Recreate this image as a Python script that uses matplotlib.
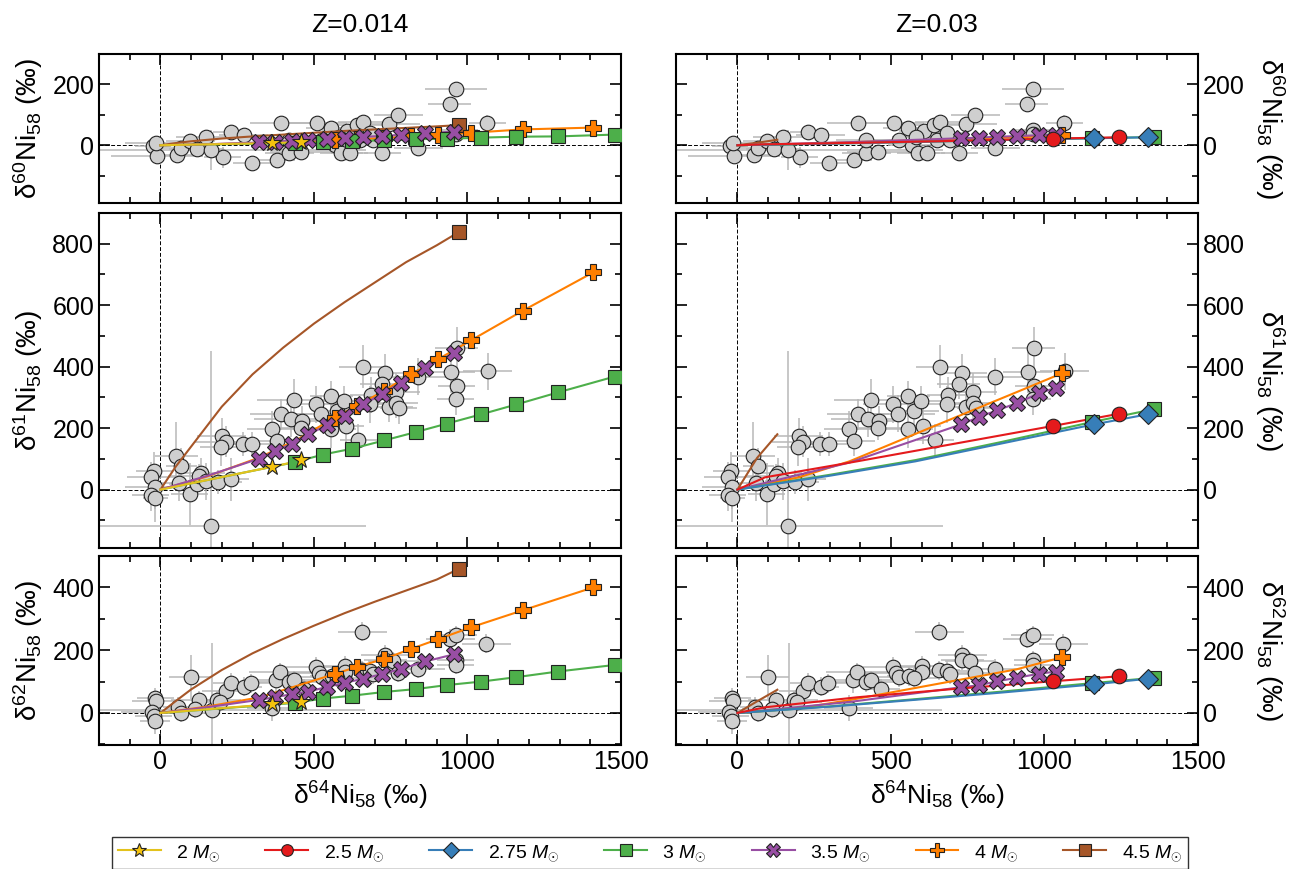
import numpy as np
import matplotlib.pyplot as plt
from matplotlib.ticker import MultipleLocator
from matplotlib.lines import Line2D

plt.rcParams['font.family'] = ['Liberation Sans', 'DejaVu Sans']
plt.rcParams['mathtext.fontset'] = 'custom'
plt.rcParams['mathtext.rm'] = 'Liberation Sans'
plt.rcParams['mathtext.it'] = 'Liberation Sans:italic'

# ---- grain data (same grains in both columns) ----
g60_x = [-24, -12, -14, 55, 67, 97, 118, 150, 203, 230, 271, 298, 379, 392, 420, 458, 509, 555, 569, 589,
         616, 607, 640, 659, 650, 691, 684, 745, 774, 722, 840, 943, 962, 1064, 964, 962, 583, 420, 525, 165]
g60_y = [-4, -35, 7, -32, -10, 15, -13, 26, -40, 45, 34, -57, -48, 72, -26, -21, 74, 55, 1, -26,
         -26, 47, 68, 77, 17, 17, 39, 70, 99, -26, -10, 134, 186, 74, 50, 38, 28, 17, 17, -15]
g60_xe = [60, 150, 100, 60, 80, 80, 90, 100, 60, 60, 80, 60, 60, 100, 80, 100, 100, 80, 80, 70,
          60, 80, 120, 80, 80, 70, 70, 100, 80, 60, 80, 70, 100, 60, 70, 60, 80, 100, 80, 505]
g60_ye = [15, 20, 20, 20, 20, 20, 20, 20, 35, 20, 20, 20, 20, 20, 20, 20, 20, 20, 20, 20,
          20, 20, 20, 20, 20, 20, 20, 20, 25, 20, 25, 20, 20, 25, 20, 20, 20, 20, 20, 65]

g61_x = [-20, -30, -16, -31, -16, 51, 68, 62, 95, 119, 131, 126, 149, 187, 230, 199, 214, 198, 268, 298,
         165, 363, 379, 393, 424, 434, 461, 458, 508, 522, 556, 556, 576, 599, 603, 644, 661, 687, 681, 732,
         721, 743, 766, 768, 776, 840, 946, 965, 965, 962, 1066]
g61_y = [62, 41, 8, -18, -27, 109, 76, 22, -14, 18, 54, 44, 27, 25, 33, 174, 156, 138, 149, 149,
         -120, 197, 158, 245, 231, 291, 223, 201, 277, 247, 305, 196, 256, 288, 207, 163, 399, 308, 277, 381,
         345, 270, 319, 283, 264, 367, 383, 460, 337, 294, 385]
g61_xe = [60, 80, 100, 60, 40, 70, 50, 100, 60, 90, 80, 100, 60, 80, 60, 80, 100, 70, 60, 60,
          505, 80, 70, 100, 120, 120, 60, 80, 100, 120, 70, 80, 80, 70, 60, 60, 80, 70, 70, 80,
          70, 80, 80, 70, 60, 90, 80, 70, 60, 60, 80]
g61_ye = [60, 50, 70, 50, 80, 110, 60, 60, 100, 40, 50, 40, 60, 40, 70, 60, 50, 60, 40, 40,
          570, 60, 50, 50, 60, 70, 50, 40, 60, 60, 50, 60, 50, 50, 60, 50, 70, 60, 60, 60,
          50, 50, 60, 50, 50, 60, 70, 70, 60, 50, 60]

g62_x = [-16, -14, -27, -22, 98, 57, 68, 125, 114, 167, 184, 215, 231, 271, 296, 363, 378, 390, 420, 434,
         468, 508, 515, 525, 558, 600, 602, 576, 658, 656, 684, 732, 732, 756, 775, 838, 944, 962, 962, 962,
         1061, 691, 195, -18]
g62_y = [49, 38, 2, -11, 114, 20, 0, 41, 13, 8, 41, 71, 96, 84, 95, 16, 104, 130, 98, 104,
         77, 147, 128, 114, 117, 150, 130, 112, 259, 136, 134, 185, 168, 165, 128, 141, 236, 248, 168, 154,
         220, 123, 35, -27]
g62_xe = [60, 80, 100, 60, 70, 50, 100, 90, 100, 500, 80, 80, 60, 60, 60, 80, 70, 100, 120, 80,
          60, 100, 120, 80, 70, 80, 80, 80, 80, 70, 70, 80, 70, 80, 70, 90, 80, 70, 60, 60,
          80, 70, 80, 50]
g62_ye = [30, 30, 40, 40, 70, 30, 30, 30, 30, 215, 30, 30, 30, 30, 30, 40, 40, 30, 30, 30,
          30, 30, 30, 30, 30, 30, 30, 30, 30, 30, 30, 30, 30, 30, 30, 30, 30, 30, 30, 30,
          30, 30, 30, 40]

# ---- models, Z=0.014 ----
m2_x = [0, 363, 458]
m2_60 = [0, 7, 10]
m2_61 = [0, 74, 95]
m2_62 = [0, 28, 36]

m3_x = [0, 437, 529, 624, 729, 831, 934, 1045, 1159, 1294, 1480]
m3_60 = [0, 7, 9, 14, 16, 20, 21, 25, 28, 29, 35]
m3_61 = [0, 89, 114, 133, 160, 187, 215, 245, 277, 316, 368]
m3_62 = [0, 32, 46, 55, 67, 76, 89, 100, 114, 132, 153]

m35_x = [0, 150, 322, 373, 427, 482, 542, 600, 660, 721, 783, 862, 957]
m35_60 = [0, 3, 9, 12, 15, 17, 20, 23, 27, 31, 34, 39, 45]
m35_61 = [0, 44, 101, 125, 149, 180, 209, 239, 277, 310, 348, 395, 446]
m35_62 = [0, 18, 42, 50, 60, 68, 83, 96, 109, 124, 140, 164, 187]

m4_x = [0, 150, 324, 450, 567, 640, 728, 816, 904, 1012, 1180, 1410]
m4_60 = [0, 3, 8, 12, 16, 19, 24, 29, 34, 41, 52, 58]
m4_61 = [0, 42, 105, 165, 234, 272, 322, 375, 424, 486, 582, 707]
m4_62 = [0, 20, 50, 88, 124, 147, 172, 204, 235, 273, 327, 400]

m45_x = [0, 50, 100, 200, 300, 400, 500, 600, 700, 800, 900, 972]
m45_60 = [0, 7, 13, 22, 29, 35, 41, 47, 52, 57, 62, 66]
m45_61 = [0, 75, 140, 270, 375, 462, 540, 610, 675, 740, 795, 838]
m45_62 = [0, 38, 75, 137, 190, 236, 278, 318, 355, 390, 425, 459]

# ---- models, Z=0.03 ----
r25_x = [0, 90, 390, 700, 1027, 1244]
r25_60 = [0, 3, 8, 14, 22, 26]
r25_61 = [0, 40, 92, 148, 207, 247]
r25_62 = [0, 18, 50, 76, 101, 117]

r275_x = [0, 300, 580, 860, 1160, 1336]
r275_60 = [0, 5, 11, 17, 23, 26]
r275_61 = [0, 45, 92, 150, 212, 245]
r275_62 = [0, 20, 42, 65, 91, 109]

r3_x = [0, 300, 580, 860, 1156, 1357]
r3_60 = [0, 5, 11, 17, 23, 27]
r3_61 = [0, 48, 96, 155, 220, 262]
r3_62 = [0, 21, 44, 68, 95, 112]

r35_x = [0, 365, 728, 786, 846, 909, 982, 1038]
r35_60 = [0, 10, 23, 25, 28, 30, 33, 34]
r35_61 = [0, 88, 212, 236, 258, 281, 313, 332]
r35_62 = [0, 35, 82, 88, 101, 112, 125, 132]

r4_x = [0, 200, 365, 637, 909, 1056]
r4_60 = [0, 4, 10, 18, 26, 32]
r4_61 = [0, 40, 92, 205, 317, 378]
r4_62 = [0, 15, 41, 90, 139, 177]

r45_x = [0, 64, 130]
r45_60 = [0, 8, 18]
r45_61 = [0, 103, 180]
r45_62 = [0, 37, 74]

# style per mass
labels = ['2', '2.5', '2.75', '3', '3.5', '4', '4.5']
colors = ['#e3c21c', '#e41a1c', '#377eb8', '#4daf4a', '#984ea3', '#ff7f00', '#a65628']
face = ['#f4c20d', '#e41a1c', '#377eb8', '#4daf4a', '#984ea3', '#ff7f00', '#a65628']
marks = ['*', 'o', 'D', 's', 'X', 'P', 's']
msize = [13, 10.5, 10.5, 10, 12, 12, 10]

# (mass index, x, [d60, d61, d62], first marker index), drawn in this order
left_models = [
    (6, m45_x, [m45_60, m45_61, m45_62], 11),
    (5, m4_x, [m4_60, m4_61, m4_62], 4),
    (3, m3_x, [m3_60, m3_61, m3_62], 1),
    (4, m35_x, [m35_60, m35_61, m35_62], 2),
    (0, m2_x, [m2_60, m2_61, m2_62], 1),
]
right_models = [
    (6, r45_x, [r45_60, r45_61, r45_62], None),
    (5, r4_x, [r4_60, r4_61, r4_62], 5),
    (4, r35_x, [r35_60, r35_61, r35_62], 2),
    (3, r3_x, [r3_60, r3_61, r3_62], 4),
    (2, r275_x, [r275_60, r275_61, r275_62], 4),
    (1, r25_x, [r25_60, r25_61, r25_62], 4),
]

grains = [(g60_x, g60_y, g60_xe, g60_ye),
          (g61_x, g61_y, g61_xe, g61_ye),
          (g62_x, g62_y, g62_xe, g62_ye)]
ylims = [(-190, 300), (-190, 900), (-102, 500)]
ynames = [r'$\mathregular{\delta^{60}Ni_{58}}$ (‰)',
          r'$\mathregular{\delta^{61}Ni_{58}}$ (‰)',
          r'$\mathregular{\delta^{62}Ni_{58}}$ (‰)']

W, H = 1296, 869
fig = plt.figure(figsize=(W / 100, H / 100), dpi=100)
cols_px = [(99, 621), (676, 1198)]
rows_px = [(54, 203), (213, 548), (556, 745)]

for c, (x0, x1) in enumerate(cols_px):
    models = left_models if c == 0 else right_models
    for r, (t, b) in enumerate(rows_px):
        ax = fig.add_axes([x0 / W, 1 - b / H, (x1 - x0) / W, (b - t) / H])
        gx, gy, gxe, gye = grains[r]
        ax.errorbar(gx, gy, xerr=gxe, yerr=gye, fmt='none', ecolor='#b8b8b8',
                    elinewidth=1.1, capsize=0, zorder=1)
        ax.plot(gx, gy, 'o', ms=10.5, mfc='#cfcfcf', mec='#222222', mew=0.8,
                ls='none', zorder=2)
        for k, mx, ys, first in models:
            my = ys[r]
            ax.plot(mx, my, '-', color=colors[k], lw=1.5, zorder=3)
            if first is not None:
                ax.plot(mx[first:], my[first:], ls='none', marker=marks[k],
                        ms=msize[k], mfc=face[k], mec='#222222', mew=0.8, zorder=4)
        ax.axhline(0, color='k', lw=0.7, ls=(0, (4, 2)), zorder=0.5)
        ax.axvline(0, color='k', lw=0.7, ls=(0, (4, 2)), zorder=0.5)
        ax.set_xlim(-200, 1500)
        ax.set_ylim(*ylims[r])
        ax.xaxis.set_major_locator(MultipleLocator(500))
        ax.xaxis.set_minor_locator(MultipleLocator(100))
        ax.yaxis.set_major_locator(MultipleLocator(200))
        ax.yaxis.set_minor_locator(MultipleLocator(100))
        ax.tick_params(which='both', direction='in', top=True, right=True,
                       labelsize=18, width=1.2)
        ax.tick_params(which='major', length=8)
        ax.tick_params(which='minor', length=4)
        for s in ax.spines.values():
            s.set_linewidth(1.5)
        if r < 2:
            ax.tick_params(labelbottom=False)
        else:
            ax.set_xlabel(r'$\mathregular{\delta^{64}Ni_{58}}$ (‰)', fontsize=19, labelpad=4)
        if c == 0:
            ax.set_ylabel(ynames[r], fontsize=20, labelpad=5)
        else:
            ax.tick_params(labelleft=False, labelright=True)
            ax.yaxis.set_label_position('right')
            ax.set_ylabel(ynames[r], fontsize=20, rotation=270, labelpad=30)
        if r == 0:
            ax.set_title('Z=0.014' if c == 0 else 'Z=0.03', fontsize=19, pad=16)

handles = []
for k in range(7):
    handles.append(Line2D([0], [0], color=colors[k], lw=1.5, marker=marks[k],
                          ms=msize[k] * 0.8, mfc=face[k], mec='#222222', mew=0.8))
leg_labels = [lab + r' $M_{\odot}$' for lab in labels]
leg = fig.legend(handles, leg_labels, ncol=7, loc='center',
                 bbox_to_anchor=(112 / W, 1 - 868 / H, (1188 - 112) / W, 30 / H),
                 mode='expand', fontsize=14, frameon=True, fancybox=False,
                 handlelength=2.2, borderaxespad=0, borderpad=0.3, handletextpad=0.8)
leg.get_frame().set_edgecolor('k')
leg.get_frame().set_linewidth(1.0)

fig.savefig('out.png', dpi=100)
